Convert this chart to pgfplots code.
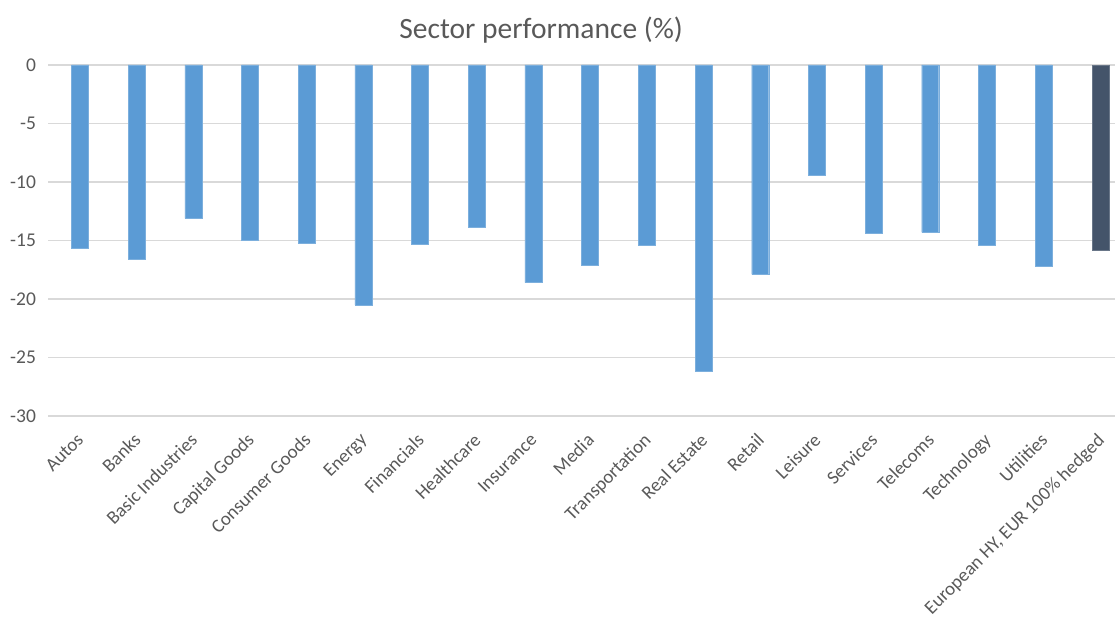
\documentclass[border=0pt]{standalone}
\usepackage{pgfplots}
\pgfplotsset{compat=1.18}
\usepackage{fontspec}
\setmainfont{Carlito}
\definecolor{barblue}{HTML}{5B9BD5}
\definecolor{bardark}{HTML}{44546A}
\definecolor{txtgray}{HTML}{595959}
\definecolor{gridgray}{HTML}{D9D9D9}
\begin{document}
\begin{tikzpicture}[x=1pt,y=1pt]
\begin{axis}[
  at={(0,0)}, anchor=south west,
  scale only axis, width=1067pt, height=351pt,
  xmin=-0.565, xmax=18.26, ymin=-30, ymax=0,
  ytick={-30,-25,-20,-15,-10,-5,0},
  yticklabels={-30,-25,-20,-15,-10,-5,0},
  xtick={0,1,2,3,4,5,6,7,8,9,10,11,12,13,14,15,16,17,18},
  xticklabels={Autos,Banks,Basic Industries,Capital Goods,Consumer Goods,Energy,Financials,Healthcare,Insurance,Media,Transportation,Real Estate,Retail,Leisure,Services,Telecoms,Technology,Utilities,{European HY, EUR 100\% hedged}},
  axis line style={draw=none},
  major tick length=0pt,
  ymajorgrids, grid style={gridgray, line width=1.2pt},
  tick label style={font=\fontsize{19.5}{23}\selectfont, text=txtgray},
  yticklabel style={anchor=east, xshift=-8.5pt},
  xticklabel style={rotate=45, anchor=north east, xshift=-11pt, yshift=-5pt, font=\fontsize{18.9}{22}\selectfont},
  title={Sector performance (\%)},
  title style={at={(axis description cs:0.4621,1)}, anchor=center, yshift=29pt, font=\fontsize{29.5}{34}\selectfont, text=txtgray},
  ybar, bar width=17pt, bar shift=0pt,
  clip=false,
]
\addplot[fill=barblue, draw=barblue!80!white] coordinates {
 (0,-15.7) (1,-16.6) (2,-13.1) (3,-15.0) (4,-15.2) (5,-20.5) (6,-15.3) (7,-13.85) (8,-18.6)
 (9,-17.1) (10,-15.4) (11,-26.2) (12,-17.9) (13,-9.4) (14,-14.4) (15,-14.3) (16,-15.4) (17,-17.2)
};
\addplot[fill=bardark, draw=bardark!80!white] coordinates {(18,-15.8)};
\end{axis}
\pgfresetboundingbox
\path (-48,-201) rectangle (1067,416);
\end{tikzpicture}
\end{document}
